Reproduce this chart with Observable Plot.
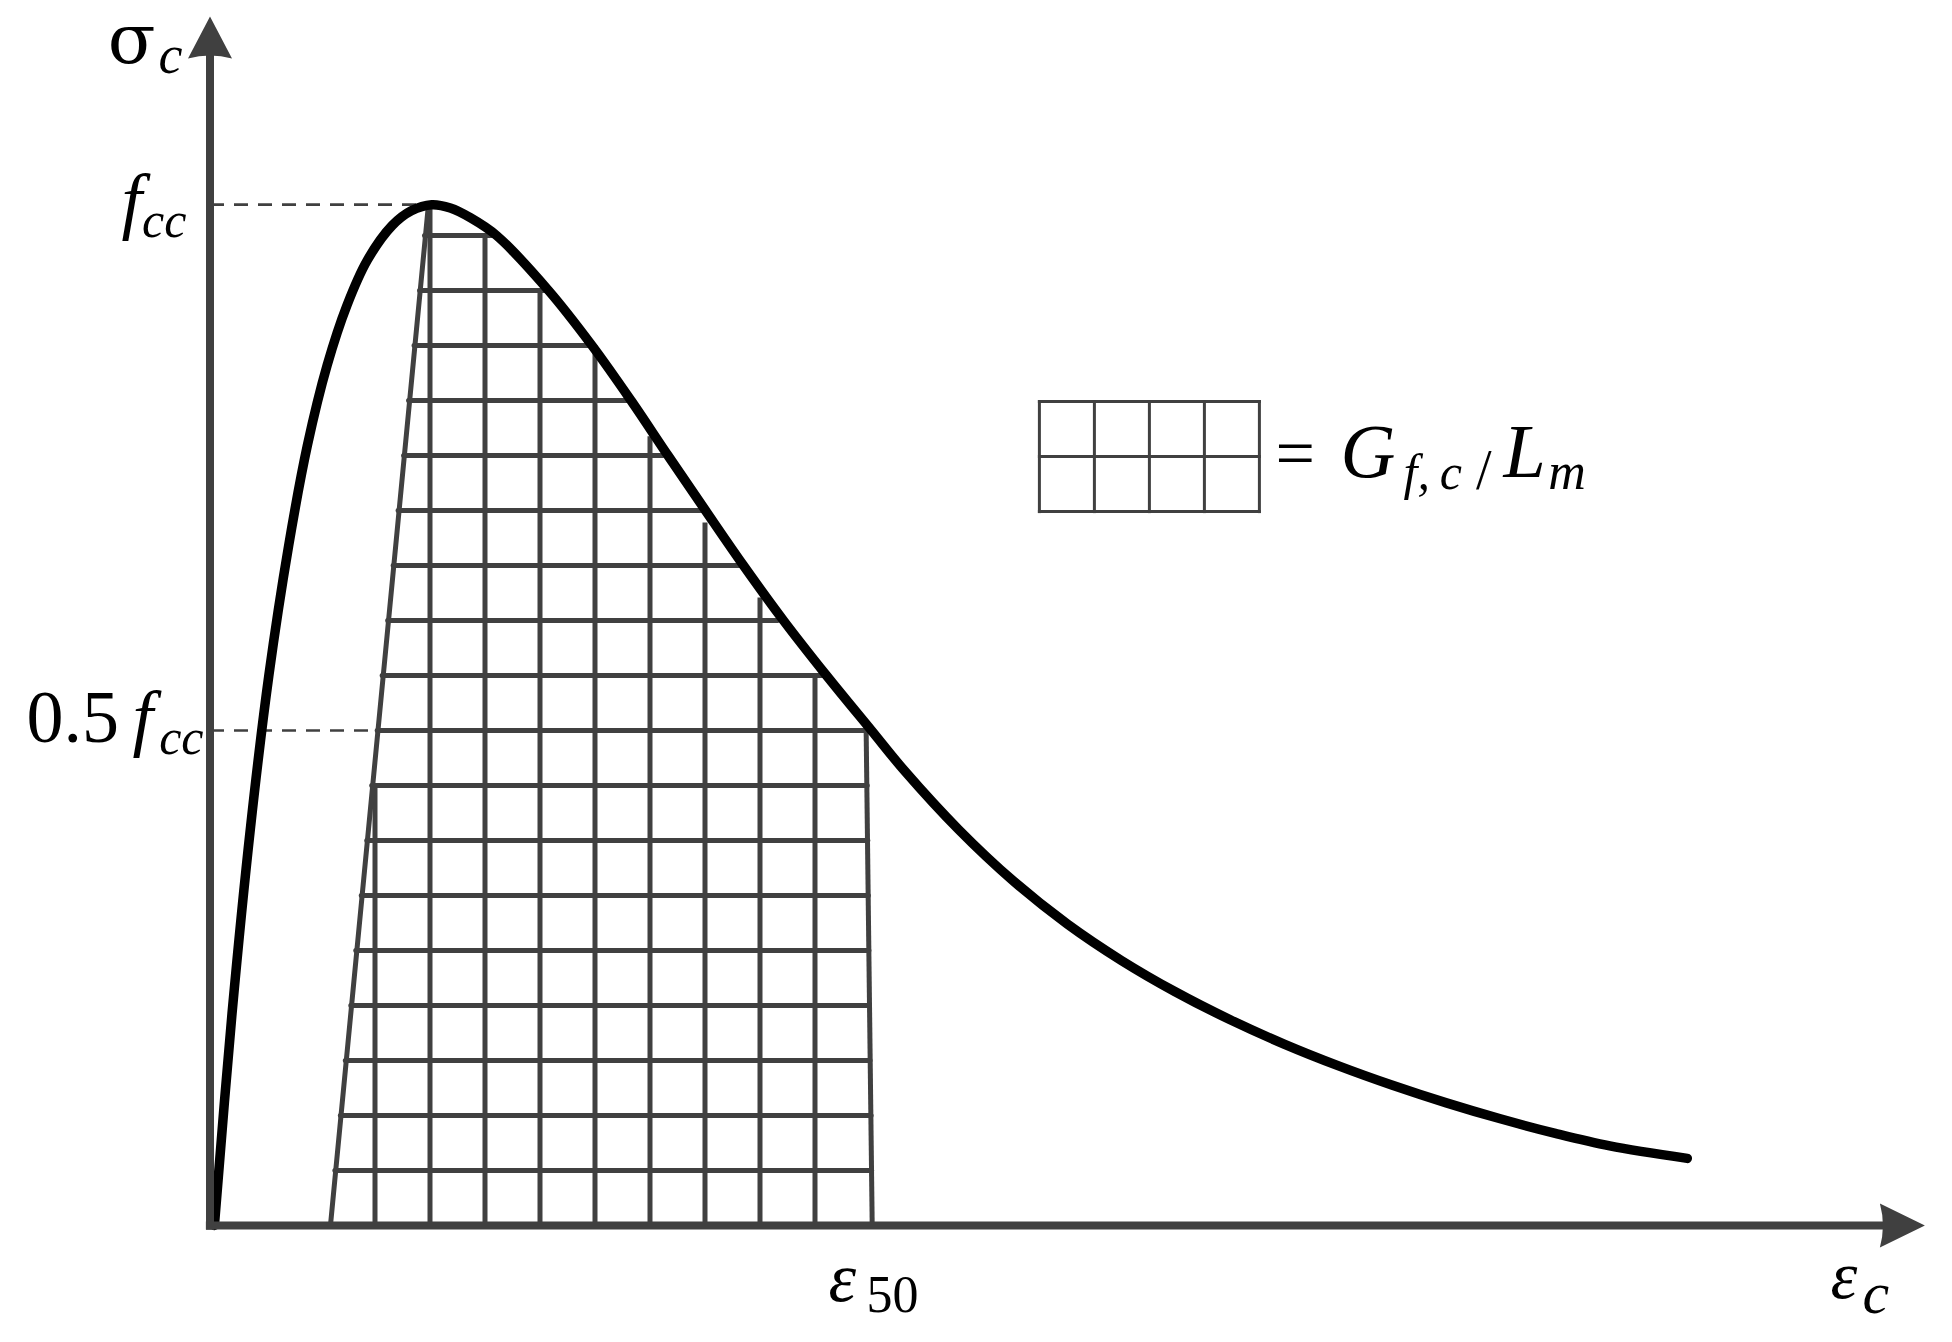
<!DOCTYPE html>
<html><head><meta charset="utf-8">
<script src="https://cdn.jsdelivr.net/npm/d3@7"></script>
<script src="https://cdn.jsdelivr.net/npm/@observablehq/plot@0.6"></script>
<style>html,body{margin:0;padding:0;background:#fff;overflow:hidden}#chart svg{display:block}</style>
</head><body><div id="chart"></div>
<script>
// All values in grid-cell units (1 unit = one square of the hatched grid)
const curveStrain = [0.08,0.40,0.74,1.07,1.43,1.77,2.13,2.49,2.86,3.31,3.66,4.03,
  4.37,4.74,5.21,6.155,6.945,7.655,8.327,9.009,9.70,10.427,11.209,12.027,
  12.63,13.61,14.61,15.59,16.57,17.55,18.54,19.54,20.52,21.50,22.48,23.46,24.46,25.45,26.86];
const curveStress = [0,3.85,7.27,10.0,12.36,14.18,15.64,16.73,17.55,18.18,18.45,18.56,
  18.50,18.32,18.0,17,16,15,14,13,12,11,10,9,
  8.265,7.20,6.26,5.48,4.82,4.25,3.745,3.295,2.903,2.55,2.23,1.94,1.675,1.447,1.22];

const fcc = 18.56, halfFcc = 9;            // stress levels of the two dashed guides
const unloadStrain = [2.19, 3.97];         // unloading line, bottom and top strain
const unloadStress = [0, 18.54];
const halfFccEnd = 3.05;                   // where the 0.5 fcc guide meets the unloading line
const eps50Strain = [12.04, 11.93];        // right edge of the grid (ε50)
const eps50Stress = [0, 9];

const rowLevel = [1,2,3,4,5,6,7,8,9,10,11,12,13,14,15,16,17,18];
const rowLeft  = [2.27,2.37,2.46,2.56,2.65,2.75,2.85,2.94,3.04,3.13,3.23,3.33,3.42,3.52,3.61,3.71,3.81,3.90];
const rowRight = [12.03,12.02,12.0,11.99,11.98,11.97,11.96,11.95,11.93,11.19,10.32,9.68,8.95,8.23,7.59,6.88,6.10,5.15];
const colStrain = [3,4,5,6,7,8,9,10,11];
const colTop    = [8,18.54,18,17,16,14.35,12.78,11.42,10];

const legendCols = [15.08,16.08,17.08,18.08,19.08];
const legendRows = [12.98,13.98,14.98];

const xAxisEnd = 31.18, yAxisEnd = 21.98;

const italicTokens = [
  {t:"c",   x:-0.936, y:20.96,  s:54},
  {t:"f",   x:-1.609, y:18.2,   s:74},
  {t:"cc",  x:-1.236, y:17.97,  s:50},
  {t:"f",   x:-1.41,  y:8.782,  s:74},
  {t:"cc",  x:-0.925, y:8.564,  s:50},
  {t:"ε",   x:11.245, y:-1.364, s:70},
  {t:"ε",   x:29.464, y:-1.327, s:68},
  {t:"c",   x:30.045, y:-1.582, s:60},
  {t:"G",   x:20.555, y:13.618, s:76},
  {t:"f,",  x:21.70,  y:13.382, s:50},
  {t:"c",   x:22.36,  y:13.382, s:50},
  {t:"L",   x:23.518, y:13.618, s:76},
  {t:"m",   x:24.33,  y:13.382, s:52}
];
const uprightTokens = [
  {t:"0.5", x:-3.336, y:8.782,  s:74},
  {t:"50",  x:11.936, y:-1.564, s:52},
  {t:"=",   x:19.373, y:13.618, s:70},
  {t:"/",   x:23.02,  y:13.382, s:56}
];
const greekTokens = [
  {t:"σ",   x:-1.86,  y:21.145, s:70}
];

const curve = curveStrain.map((x,i)=>({x, y:curveStress[i]}));
const rows = rowLevel.map((y,i)=>({x1:rowLeft[i], x2:rowRight[i], y}));
const cols = colStrain.map((x,i)=>({x, y2:colTop[i]}));
const legH = legendRows.map(y=>({y}));
const legV = legendCols.map(x=>({x}));

const gray = "#404040";
const upArrow = {draw(ctx){ ctx.moveTo(0,0); ctx.lineTo(22,42); ctx.quadraticCurveTo(0,36,-22,42); ctx.closePath(); }};
const rightArrow = {draw(ctx){ ctx.moveTo(0,0); ctx.lineTo(-45,-22); ctx.quadraticCurveTo(-39,0,-45,22); ctx.closePath(); }};

const txt = (data, extra) => Plot.text(data, {x: "x", y: "y", text: "t", fontSize: d => d.s, textAnchor: "start", lineAnchor: "bottom", fill: "#000", ...extra});

const chart = Plot.plot({
  width: 1952, height: 1342,
  marginTop: 0, marginRight: 0, marginBottom: 0, marginLeft: 0,
  x: {domain: [0, 1], range: [209.5, 264.5], axis: null},
  y: {domain: [0, 1], range: [1225, 1170], axis: null},
  style: {background: "white", overflow: "visible"},
  marks: [
    // hatched grid
    Plot.link(rows, {x1: "x1", x2: "x2", y1: "y", y2: "y", stroke: gray, strokeWidth: 5, strokeLinecap: "round"}),
    Plot.link(cols, {x1: "x", x2: "x", y1: () => 0, y2: "y2", stroke: gray, strokeWidth: 5}),
    Plot.link([0], {x1: () => eps50Strain[0], y1: () => eps50Stress[0], x2: () => eps50Strain[1], y2: () => eps50Stress[1], stroke: gray, strokeWidth: 5}),
    Plot.link([0], {x1: () => unloadStrain[0], y1: () => unloadStress[0], x2: () => unloadStrain[1], y2: () => unloadStress[1], stroke: gray, strokeWidth: 5, strokeLinecap: "round"}),
    // dashed guides
    Plot.link([0], {x1: () => 0, x2: () => unloadStrain[1], y1: () => fcc, y2: () => fcc, stroke: gray, strokeWidth: 2.8, strokeDasharray: "14,10"}),
    Plot.link([0], {x1: () => 0, x2: () => halfFccEnd, y1: () => halfFcc, y2: () => halfFcc, stroke: gray, strokeWidth: 2.5, strokeDasharray: "14,10"}),
    // stress-strain curve
    Plot.line(curve, {x: "x", y: "y", stroke: "#000", strokeWidth: 9.5, curve: "catmull-rom", strokeLinecap: "round", strokeLinejoin: "round"}),
    // axes
    Plot.link([0], {x1: () => 0, x2: () => 0, y1: () => -0.075, y2: () => yAxisEnd - 0.7, stroke: gray, strokeWidth: 8}),
    Plot.link([0], {x1: () => -0.075, x2: () => xAxisEnd - 0.75, y1: () => 0, y2: () => 0, stroke: gray, strokeWidth: 8}),
    Plot.dot([0], {x: () => 0, y: () => yAxisEnd, symbol: upArrow, fill: gray, stroke: "none"}),
    Plot.dot([0], {x: () => xAxisEnd, y: () => 0, symbol: rightArrow, fill: gray, stroke: "none"}),
    // legend box
    Plot.link(legH, {x1: () => legendCols[0], x2: () => legendCols[legendCols.length-1], y1: "y", y2: "y", stroke: gray, strokeWidth: 3, strokeLinecap: "square"}),
    Plot.link(legV, {x1: "x", x2: "x", y1: () => legendRows[0], y2: () => legendRows[legendRows.length-1], stroke: gray, strokeWidth: 3, strokeLinecap: "square"}),
    // labels
    txt(italicTokens, {fontStyle: "italic", fontFamily: "Liberation Serif"}),
    txt(uprightTokens, {fontFamily: "Liberation Serif"}),
    txt(greekTokens, {fontFamily: "DejaVu Serif"})
  ]
});
document.getElementById("chart").appendChild(chart);
</script>
</body></html>
